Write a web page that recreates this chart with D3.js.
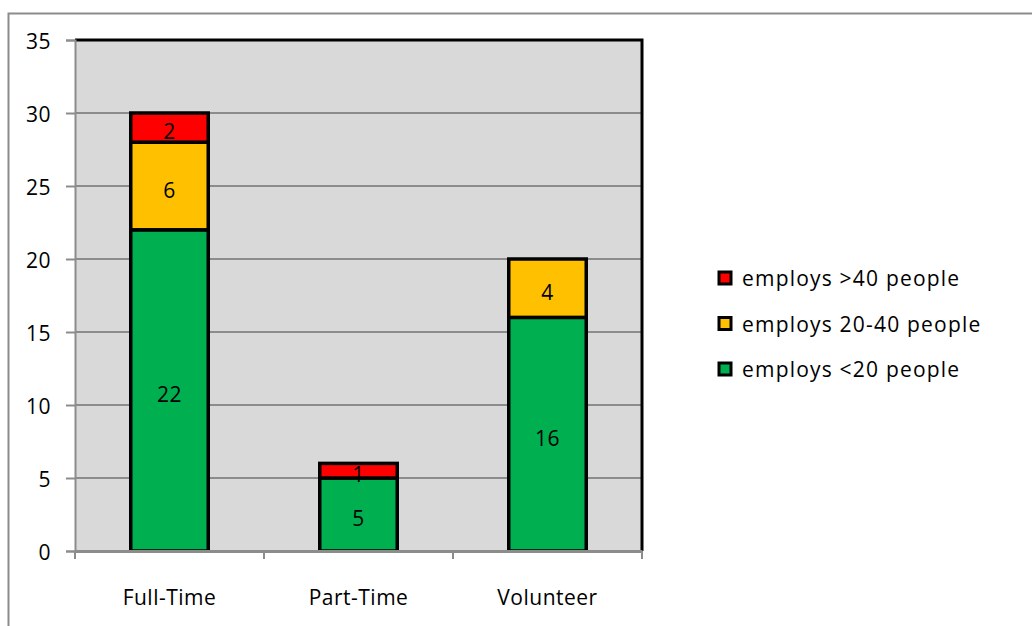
<!DOCTYPE html>
<html>
<head>
<meta charset="utf-8">
<script src="https://cdn.jsdelivr.net/npm/d3@7"></script>
<style>
  html, body { margin: 0; padding: 0; background: #fff; }
  svg { display: block; font-family: "Open Sans", Lato, sans-serif; }
</style>
</head>
<body>
<svg id="chart" width="1032" height="626"></svg>
<script>
// Staff types on the x axis
const categories = ["Full-Time", "Part-Time", "Volunteer"];
// Stack series, bottom to top
const seriesNames = ["employs <20 people", "employs 20-40 people", "employs >40 people"];
const under20 = [22, 5, 16];
const from20to40 = [6, 0, 4];
const over40 = [2, 1, 0];
const seriesColors = ["#00B050", "#FFC000", "#FF0000"];
const yTicks = [0, 5, 10, 15, 20, 25, 30, 35];

const svg = d3.select("#chart");
const plot = { left: 75, top: 40, right: 642, bottom: 551 };
const fontSize = 21;

// outer chart frame
svg.append("rect")
  .attr("x", 8.5).attr("y", 13.5)
  .attr("width", 1100).attr("height", 700)
  .attr("fill", "#fff").attr("stroke", "#8c8c8c").attr("stroke-width", 2);

const x = d3.scaleBand().domain(categories).range([plot.left, plot.right]).paddingInner(0.59).paddingOuter(0.295);
const y = d3.scaleLinear().domain([0, 35]).range([plot.bottom, plot.top]);

// plot background
svg.append("rect")
  .attr("x", plot.left).attr("y", plot.top)
  .attr("width", plot.right - plot.left).attr("height", plot.bottom - plot.top)
  .attr("fill", "#D9D9D9");

// gridlines
svg.append("g").selectAll("line").data(yTicks.filter(t => t > 0 && t < 35)).join("line")
  .attr("x1", plot.left).attr("x2", plot.right)
  .attr("y1", d => y(d)).attr("y2", d => y(d))
  .attr("stroke", "#8c8c8c").attr("stroke-width", 2);

// black border on top and right of plot area
svg.append("path")
  .attr("d", `M${plot.left},${plot.top}H${plot.right}V${plot.bottom}`)
  .attr("fill", "none").attr("stroke", "#000").attr("stroke-width", 3);

// stacked bars
const rows = categories.map((c, i) => ({ cat: c, s0: under20[i], s1: from20to40[i], s2: over40[i] }));
const stack = d3.stack().keys(["s0", "s1", "s2"])(rows);

svg.append("g").selectAll("g").data(stack).join("g")
  .attr("fill", (d, i) => seriesColors[i])
  .selectAll("rect").data(d => d.filter(p => p[1] - p[0] > 0)).join("rect")
  .attr("x", d => x(d.data.cat))
  .attr("width", x.bandwidth())
  .attr("y", d => y(d[1]))
  .attr("height", d => y(d[0]) - y(d[1]))
  .attr("stroke", "#000").attr("stroke-width", 3.5);

// value labels, drawn above all segments
svg.append("g").selectAll("text")
  .data(stack.flatMap(layer => layer.filter(p => p[1] - p[0] > 0)))
  .join("text")
  .attr("x", d => x(d.data.cat) + x.bandwidth() / 2)
  .attr("y", d => y((d[0] + d[1]) / 2))
  .attr("dy", "0.55em")
  .attr("text-anchor", "middle")
  .attr("fill", "#000")
  .attr("font-size", fontSize)
  .attr("letter-spacing", 0.5)
  .text(d => d[1] - d[0]);

// y axis
const yAxis = svg.append("g").attr("transform", `translate(${plot.left},0)`)
  .call(d3.axisLeft(y).tickValues(yTicks).tickSize(9).tickPadding(15))
  .attr("font-family", null).attr("font-size", fontSize);
yAxis.select(".domain").attr("stroke", "#8c8c8c").attr("stroke-width", 2);
yAxis.selectAll(".tick line").attr("stroke", "#8c8c8c").attr("stroke-width", 2);
yAxis.selectAll(".tick text").attr("fill", "#000").attr("letter-spacing", 0.5).attr("dy", "0.42em");

// x axis
const xAxis = svg.append("g").attr("transform", `translate(0,${plot.bottom})`)
  .call(d3.axisBottom(x).tickSize(0).tickPadding(39))
  .attr("font-family", null).attr("font-size", fontSize);
xAxis.select(".domain").attr("stroke", "#8c8c8c").attr("stroke-width", 3);
xAxis.selectAll(".tick text").attr("fill", "#000").attr("letter-spacing", 0.5);
// category boundary ticks
const bounds = d3.range(categories.length + 1).map(i => plot.left + i * (plot.right - plot.left) / categories.length);
xAxis.append("g").selectAll("line").data(bounds).join("line")
  .attr("x1", d => d).attr("x2", d => d)
  .attr("y1", 0).attr("y2", 8)
  .attr("stroke", "#8c8c8c").attr("stroke-width", 2);

// legend, top series first
const legendItems = [2, 1, 0];
const legend = svg.append("g").selectAll("g").data(legendItems).join("g")
  .attr("transform", (d, i) => `translate(719,${279 + i * 45.5})`);
legend.append("rect")
  .attr("x", 0).attr("y", -7).attr("width", 12).attr("height", 12)
  .attr("fill", d => seriesColors[d]).attr("stroke", "#000").attr("stroke-width", 3);
legend.append("text")
  .attr("x", 23).attr("y", 0).attr("dy", "0.35em")
  .attr("font-size", fontSize).attr("fill", "#000")
  .attr("letter-spacing", 1.2)
  .text(d => seriesNames[d]);
</script>
</body>
</html>
